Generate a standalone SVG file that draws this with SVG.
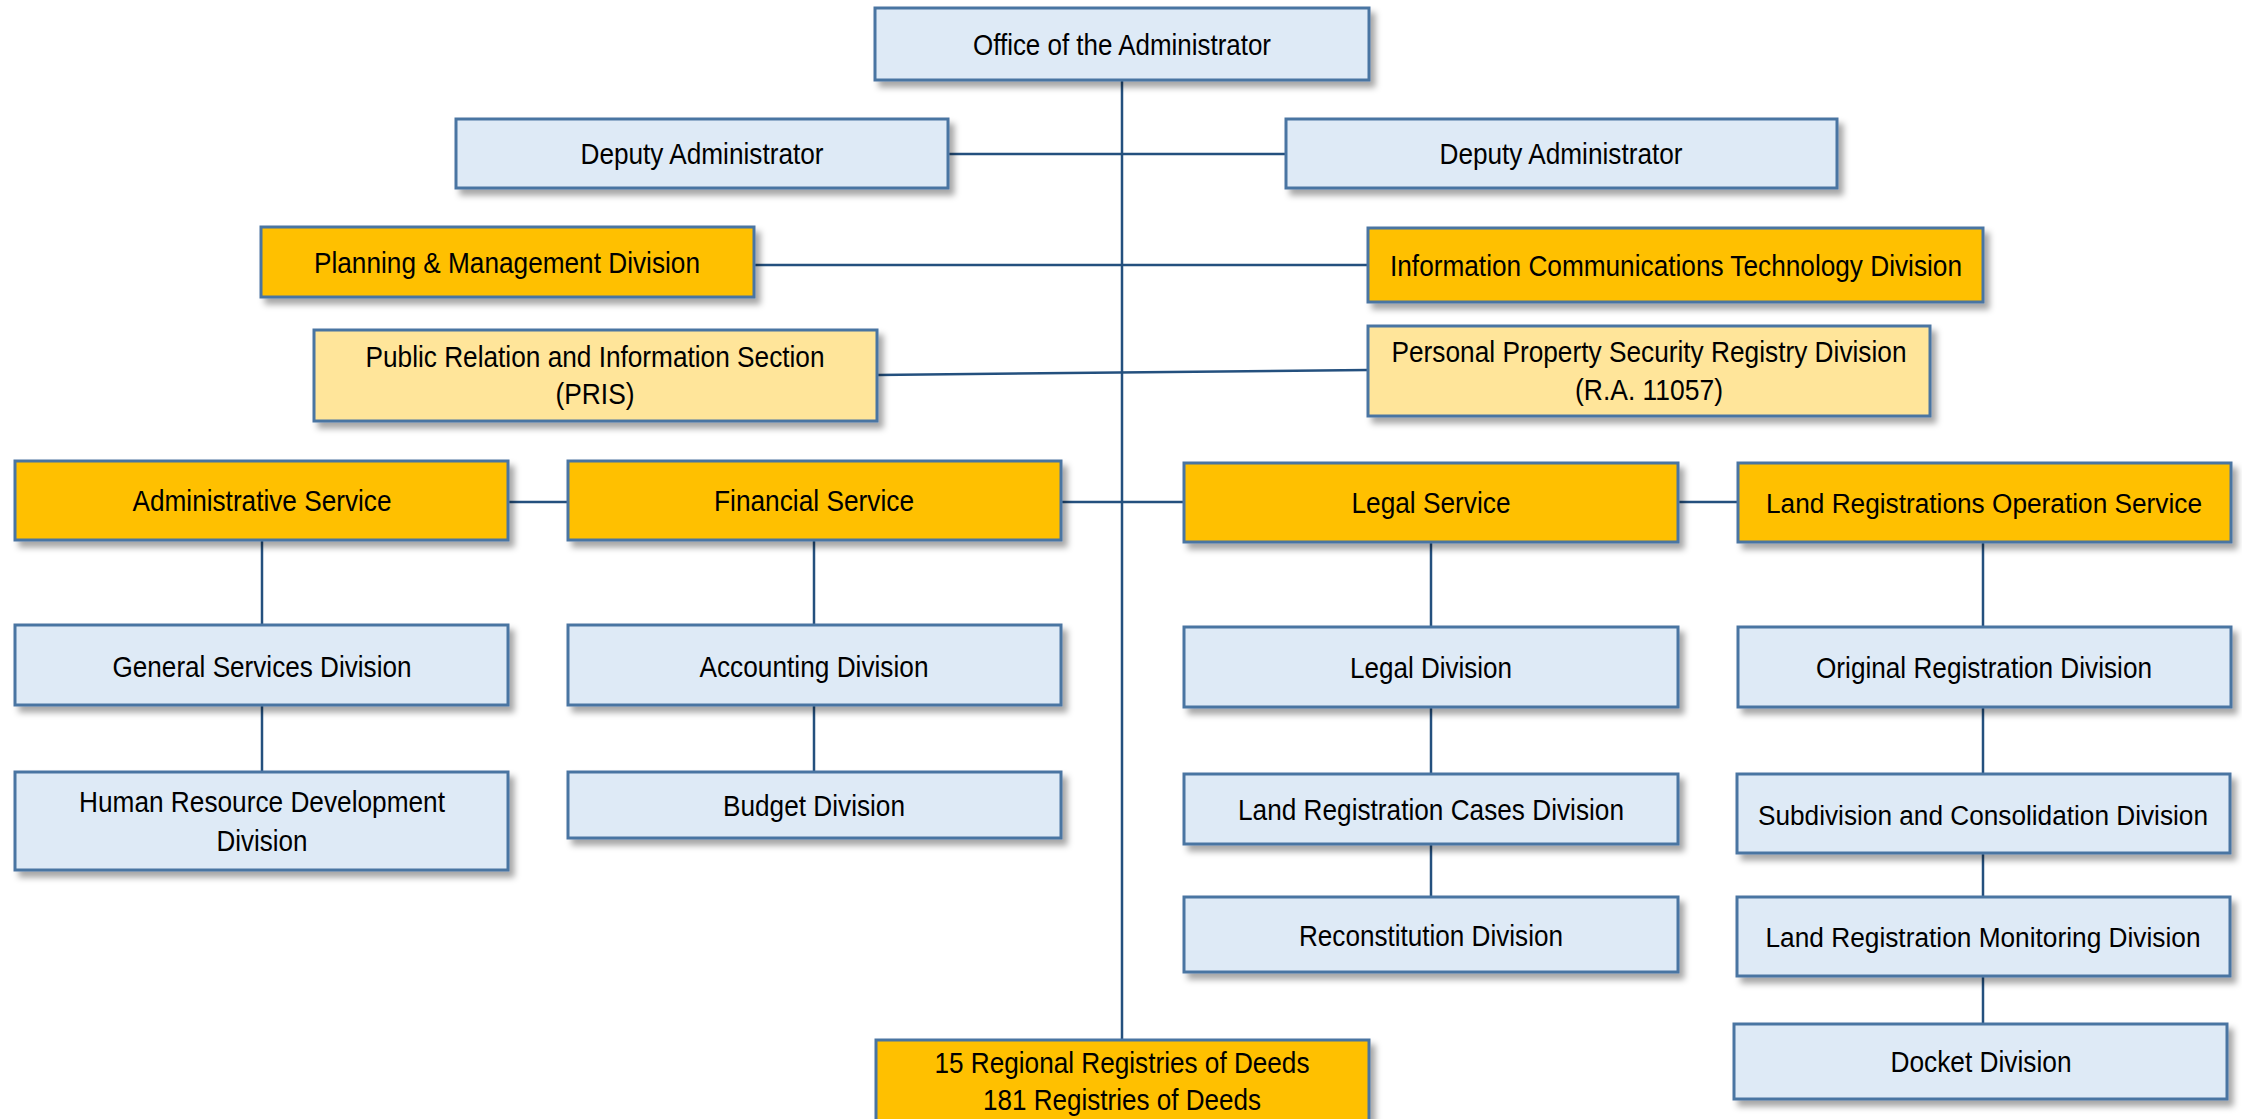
<svg xmlns="http://www.w3.org/2000/svg" width="2242" height="1119" viewBox="0 0 2242 1119">
<style>
.box{stroke:#4a74a2;stroke-width:3;filter:url(#sh)}
.b{fill:#deeaf6}
.o{fill:#ffc000}
.y{fill:#ffe59a}
.t{font-family:"Liberation Sans",Arial,sans-serif;font-size:30px;fill:#000;text-anchor:middle}
.s{font-size:27px}
.c{stroke:#24507e;stroke-width:2.5;fill:none}
</style>
<defs>
<filter id="sh" x="-10%" y="-20%" width="125%" height="150%">
<feDropShadow dx="5" dy="6" stdDeviation="3" flood-color="#000" flood-opacity="0.35"/>
</filter>
</defs>
<rect width="2242" height="1119" fill="#fff"/>
<g id="connectors">
<line class="c" x1="1122" y1="80" x2="1122" y2="1040"/>
<line class="c" x1="948" y1="154" x2="1286" y2="154"/>
<line class="c" x1="754" y1="265" x2="1368" y2="265"/>
<line class="c" x1="877" y1="375" x2="1368" y2="370"/>
<line class="c" x1="508" y1="502" x2="568" y2="502"/>
<line class="c" x1="1061" y1="502" x2="1184" y2="502"/>
<line class="c" x1="1678" y1="502" x2="1738" y2="502"/>
<line class="c" x1="262" y1="540" x2="262" y2="625"/>
<line class="c" x1="262" y1="705" x2="262" y2="772"/>
<line class="c" x1="814" y1="540" x2="814" y2="625"/>
<line class="c" x1="814" y1="705" x2="814" y2="772"/>
<line class="c" x1="1431" y1="542" x2="1431" y2="627"/>
<line class="c" x1="1431" y1="707" x2="1431" y2="774"/>
<line class="c" x1="1431" y1="844" x2="1431" y2="897"/>
<line class="c" x1="1983" y1="542" x2="1983" y2="627"/>
<line class="c" x1="1983" y1="707" x2="1983" y2="774"/>
<line class="c" x1="1983" y1="853" x2="1983" y2="897"/>
<line class="c" x1="1983" y1="976" x2="1983" y2="1024"/>
</g>
<g id="office"><rect class="box b" x="875" y="8" width="494" height="72"/><text class="t" x="1122" y="55" textLength="298" lengthAdjust="spacingAndGlyphs">Office of the Administrator</text></g>
<g id="deputy1"><rect class="box b" x="456" y="119" width="492" height="69"/><text class="t" x="702" y="164" textLength="243" lengthAdjust="spacingAndGlyphs">Deputy Administrator</text></g>
<g id="deputy2"><rect class="box b" x="1286" y="119" width="551" height="69"/><text class="t" x="1561" y="164" textLength="243" lengthAdjust="spacingAndGlyphs">Deputy Administrator</text></g>
<g id="planning"><rect class="box o" x="261" y="227" width="493" height="70"/><text class="t" x="507" y="273" textLength="386" lengthAdjust="spacingAndGlyphs">Planning &amp; Management Division</text></g>
<g id="ict"><rect class="box o" x="1368" y="228" width="615" height="74"/><text class="t" x="1676" y="276" textLength="572" lengthAdjust="spacingAndGlyphs">Information Communications Technology Division</text></g>
<g id="pris"><rect class="box y" x="314" y="330" width="563" height="91"/><text class="t" x="595" y="367" textLength="459" lengthAdjust="spacingAndGlyphs">Public Relation and Information Section</text><text class="t" x="595" y="404" textLength="79" lengthAdjust="spacingAndGlyphs">(PRIS)</text></g>
<g id="ppsr"><rect class="box y" x="1368" y="326" width="562" height="90"/><text class="t" x="1649" y="362" textLength="515" lengthAdjust="spacingAndGlyphs">Personal Property Security Registry Division</text><text class="t" x="1649" y="400" textLength="148" lengthAdjust="spacingAndGlyphs">(R.A. 11057)</text></g>
<g id="admin"><rect class="box o" x="15" y="461" width="493" height="79"/><text class="t" x="262" y="511" textLength="259" lengthAdjust="spacingAndGlyphs">Administrative Service</text></g>
<g id="financial"><rect class="box o" x="568" y="461" width="493" height="79"/><text class="t" x="814" y="511" textLength="200" lengthAdjust="spacingAndGlyphs">Financial Service</text></g>
<g id="legalsvc"><rect class="box o" x="1184" y="463" width="494" height="79"/><text class="t" x="1431" y="513" textLength="159" lengthAdjust="spacingAndGlyphs">Legal Service</text></g>
<g id="lros"><rect class="box o" x="1738" y="463" width="493" height="79"/><text class="t s" x="1984" y="513" textLength="436" lengthAdjust="spacingAndGlyphs">Land Registrations Operation Service</text></g>
<g id="gsd"><rect class="box b" x="15" y="625" width="493" height="80"/><text class="t" x="262" y="677" textLength="299" lengthAdjust="spacingAndGlyphs">General Services Division</text></g>
<g id="accounting"><rect class="box b" x="568" y="625" width="493" height="80"/><text class="t" x="814" y="677" textLength="229" lengthAdjust="spacingAndGlyphs">Accounting Division</text></g>
<g id="legaldiv"><rect class="box b" x="1184" y="627" width="494" height="80"/><text class="t" x="1431" y="678" textLength="162" lengthAdjust="spacingAndGlyphs">Legal Division</text></g>
<g id="original"><rect class="box b" x="1738" y="627" width="493" height="80"/><text class="t" x="1984" y="678" textLength="336" lengthAdjust="spacingAndGlyphs">Original Registration Division</text></g>
<g id="hr"><rect class="box b" x="15" y="772" width="493" height="98"/><text class="t" x="262" y="812" textLength="366" lengthAdjust="spacingAndGlyphs">Human Resource Development</text><text class="t" x="262" y="851" textLength="91" lengthAdjust="spacingAndGlyphs">Division</text></g>
<g id="budget"><rect class="box b" x="568" y="772" width="493" height="66"/><text class="t" x="814" y="816" textLength="182" lengthAdjust="spacingAndGlyphs">Budget Division</text></g>
<g id="lrcases"><rect class="box b" x="1184" y="774" width="494" height="70"/><text class="t" x="1431" y="820" textLength="386" lengthAdjust="spacingAndGlyphs">Land Registration Cases Division</text></g>
<g id="subdivision"><rect class="box b" x="1737" y="774" width="493" height="79"/><text class="t s" x="1983" y="825" textLength="450" lengthAdjust="spacingAndGlyphs">Subdivision and Consolidation Division</text></g>
<g id="reconstitution"><rect class="box b" x="1184" y="897" width="494" height="75"/><text class="t" x="1431" y="946" textLength="264" lengthAdjust="spacingAndGlyphs">Reconstitution Division</text></g>
<g id="monitoring"><rect class="box b" x="1737" y="897" width="493" height="79"/><text class="t s" x="1983" y="947" textLength="435" lengthAdjust="spacingAndGlyphs">Land Registration Monitoring Division</text></g>
<g id="docket"><rect class="box b" x="1734" y="1024" width="493" height="75"/><text class="t" x="1981" y="1072" textLength="181" lengthAdjust="spacingAndGlyphs">Docket Division</text></g>
<g id="regional"><rect class="box o" x="876" y="1040" width="493" height="100"/><text class="t" x="1122" y="1073" textLength="375" lengthAdjust="spacingAndGlyphs">15 Regional Registries of Deeds</text><text class="t" x="1122" y="1110" textLength="278" lengthAdjust="spacingAndGlyphs">181 Registries of Deeds</text></g>
</svg>
